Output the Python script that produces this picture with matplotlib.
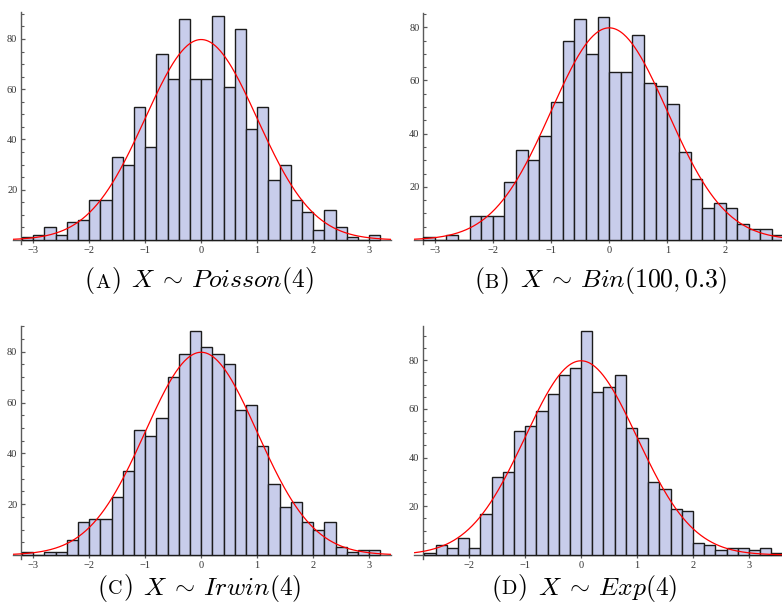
import numpy as np
import matplotlib
matplotlib.use("Agg")
import matplotlib.pyplot as plt
from matplotlib.offsetbox import TextArea, HPacker, AnnotationBbox
from matplotlib.ticker import MultipleLocator, FixedLocator

plt.rcParams['mathtext.fontset'] = 'cm'

# ---------------- data ----------------
bin_width = 0.2

counts_a = [1, 2, 5, 2, 7, 8, 16, 16, 33, 30, 53, 37, 74, 64, 88, 64,
            64, 89, 61, 84, 44, 53, 24, 30, 16, 11, 4, 12, 5, 1, 0, 2]
start_a = -3.2

counts_b = [1, 0, 2, 0, 9, 9, 9, 22, 34, 30, 39, 52, 75, 83, 70, 84,
            63, 63, 77, 59, 58, 51, 33, 23, 12, 14, 12, 6, 4, 4, 2]
start_b = -3.2

counts_c = [1, 0, 1, 1, 6, 13, 14, 14, 23, 33, 49, 47, 54, 70, 79, 88,
            82, 79, 75, 57, 59, 43, 28, 19, 21, 13, 10, 13, 3, 1, 2, 2]
start_c = -3.2

counts_d = [1, 4, 3, 7, 3, 17, 32, 34, 51, 53, 59, 66, 74, 77, 92, 67,
            69, 74, 52, 48, 30, 27, 19, 18, 5, 4, 2, 3, 3, 2, 3, 1]
start_d = -2.8

xticks_a = [-3, -2, -1, 0, 1, 2, 3]
xticks_b = [-3, -2, -1, 0, 1, 2]
xticks_c = [-3, -2, -1, 0, 1, 2, 3]
xticks_d = [-2, -1, 0, 1, 2, 3]
yticks = [20, 40, 60, 80]

letters = ["A", "B", "C", "D"]
dists = [r"Poisson(4)", r"Bin(100,0.3)", r"Irwin(4)", r"Exp(4)"]

# ---------------- layout ----------------
W, H = 782, 609
fig = plt.figure(figsize=(W / 100, H / 100), dpi=100)

BAR_COLOR = "#c8cdeb"
EDGE_COLOR = "#1c1c1c"
AXIS_COLOR = "#5a5a5a"
TICK_FONT = "Liberation Serif"


def axes_px(left_px, right_px, xlim, y0_px, ppu, ylim):
    bottom_px = y0_px - ylim[0] * ppu
    top_px = y0_px - ylim[1] * ppu
    ax = fig.add_axes([left_px / W, 1 - bottom_px / H,
                       (right_px - left_px) / W, (bottom_px - top_px) / H])
    ax.set_xlim(*xlim)
    ax.set_ylim(*ylim)
    return ax


def panel(ax, counts, start, xticks, yaxis_x):
    counts = np.asarray(counts)
    lefts = start + bin_width * np.arange(len(counts))
    ax.bar(lefts, counts, width=bin_width, align='edge', color=BAR_COLOR,
           edgecolor=EDGE_COLOR, linewidth=1.0, zorder=2)
    n = counts.sum()
    xs = np.linspace(*ax.get_xlim(), 400)
    ax.plot(xs, n * bin_width * np.exp(-xs ** 2 / 2) / np.sqrt(2 * np.pi),
            color="red", lw=0.9, zorder=3, clip_on=True)
    for s in ["top", "right"]:
        ax.spines[s].set_visible(False)
    ax.spines["left"].set_position(("data", yaxis_x))
    ax.spines["bottom"].set_position(("data", 0))
    for s in ["left", "bottom"]:
        ax.spines[s].set_color(AXIS_COLOR)
        ax.spines[s].set_linewidth(1.0)
        ax.spines[s].set_zorder(1)
    ax.patch.set_visible(False)
    ax.xaxis.set_major_locator(FixedLocator(xticks))
    ax.yaxis.set_major_locator(FixedLocator(yticks))
    ax.yaxis.set_minor_locator(MultipleLocator(5))
    ax.tick_params(axis="y", which="major", direction="in", length=3.2,
                   width=0.9, color=AXIS_COLOR, pad=2.5, labelsize=7.5,
                   labelcolor="#333333")
    ax.tick_params(axis="y", which="minor", direction="in", length=1.8,
                   width=0.8, color=AXIS_COLOR)
    ax.tick_params(axis="x", which="major", direction="out", length=2.5,
                   width=0.9, color=AXIS_COLOR, pad=1.5, labelsize=7.5,
                   labelcolor="#333333")
    for lab in ax.get_xticklabels() + ax.get_yticklabels():
        lab.set_family(TICK_FONT)


ax_a = axes_px(13, 391, (-3.36, 3.39), 240, 2.5125, (-1.6, 90.7))
panel(ax_a, counts_a, start_a, xticks_a, -3.22)

ax_b = axes_px(414.3, 782, (-3.35, 2.97), 240, 2.659, (-1.5, 85.5))
panel(ax_b, counts_b, start_b, xticks_b, -3.2)

ax_c = axes_px(13, 391, (-3.36, 3.39), 555, 2.541, (-1.6, 90.1))
panel(ax_c, counts_c, start_c, xticks_c, -3.22)

ax_d = axes_px(414.3, 782, (-2.98, 3.59), 555, 2.434, (-1.6, 94.0))
panel(ax_d, counts_d, start_d, xticks_d, -2.83)

# ---------------- captions ----------------
CAP = 18.5
caption_pos = [(199, 281), (600, 281), (199, 588), (584, 588)]
for letter, dist, (cx, cy) in zip(letters, dists, caption_pos):
    parts = [
        TextArea(r"$($", textprops=dict(size=CAP)),
        TextArea(r"$\mathrm{%s}$" % letter, textprops=dict(size=CAP * 0.78)),
        TextArea(r"$)$", textprops=dict(size=CAP)),
        TextArea(r"$\ \,X\:\sim\:%s$" % dist, textprops=dict(size=CAP)),
    ]
    box = HPacker(children=parts, align="baseline", pad=0, sep=0)
    ab = AnnotationBbox(box, (cx / W, 1 - cy / H), xycoords="figure fraction",
                        box_alignment=(0.5, 0.5), frameon=False, pad=0)
    fig.add_artist(ab)

fig.savefig("out.png", dpi=100)
